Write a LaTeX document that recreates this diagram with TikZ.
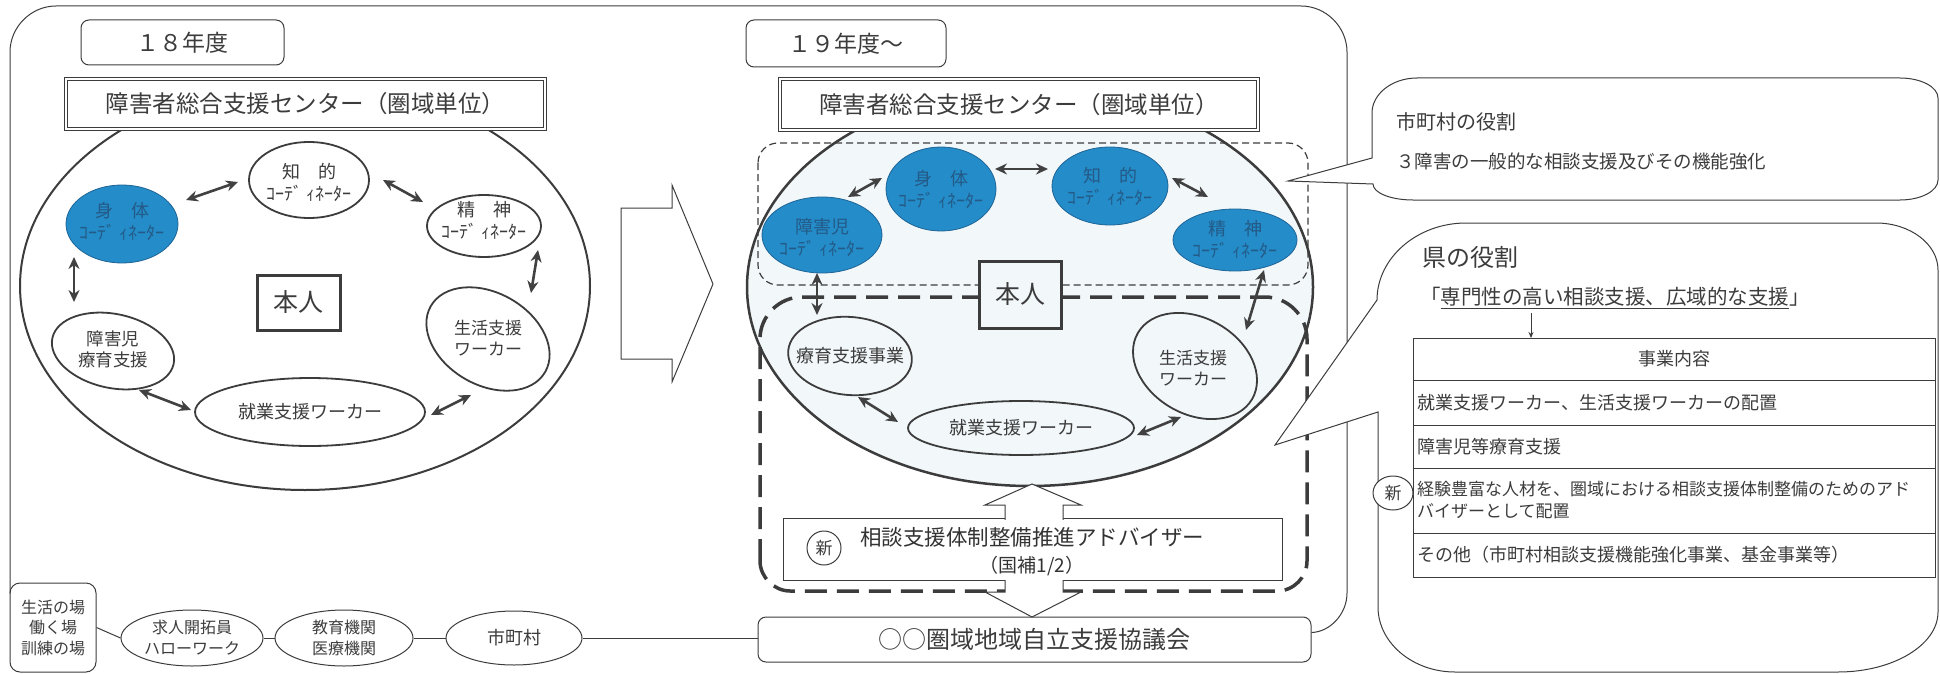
\documentclass[tikz,border=0pt]{standalone}
\usepackage{fontspec}
\setmainfont{Noto Sans CJK JP}
\usetikzlibrary{shapes.geometric,arrows.meta,calc}
\definecolor{ink}{RGB}{60,60,60}
\definecolor{arrowc}{RGB}{65,65,65}
\definecolor{cblue}{RGB}{36,140,200}
\definecolor{cbluedk}{RGB}{30,100,150}
\definecolor{cbluetxt}{RGB}{35,90,135}
\definecolor{tint}{RGB}{242,247,250}
\newcommand\fsz[2]{\fontsize{#1}{#2}\selectfont}
\begin{document}
\begin{tikzpicture}[x=1pt,y=-1pt,
  every node/.append style={text=ink},
  thinl/.style={draw=ink, line width=1pt},
  oval/.style={ellipse, draw=ink, line width=1.8pt, inner sep=0pt},
  blueoval/.style={ellipse, draw=cbluedk, line width=0.8pt, fill=cblue, inner sep=0pt},
  lbl/.style={align=center, inner sep=0pt, text=ink},
  bluelbl/.style={align=center, inner sep=0pt, text=cbluetxt},
  dbl/.style={{Stealth[length=12pt,width=11pt]}-{Stealth[length=12pt,width=11pt]}, draw=arrowc, line width=2.6pt},
  hbox/.style={draw=ink, line width=1pt, inner sep=0pt},
  heavydash/.style={draw=ink, line width=3.5pt, dash pattern=on 22pt off 10pt},
  lightdash/.style={draw=ink, line width=1.2pt, dash pattern=on 7pt off 4pt},
  cell/.style={draw=ink, line width=0.9pt, minimum width=522pt, inner sep=0pt, outer sep=0pt, anchor=north west},
]
\useasboundingbox (0,0) rectangle (1940,674);

% ---------- bottom row ----------
\node[hbox, rounded corners=10pt, minimum width=86pt, minimum height=89pt, align=center, font=\fsz{16}{20.5}] (life) at (53,627.5) {生活の場\\働く場\\訓練の場};
\node[ellipse, draw=ink, line width=1pt, minimum width=142pt, minimum height=56pt, inner sep=0pt] (kj) at (192,638) {};
\node[lbl, font=\fsz{16}{21}] (kj-t) at (kj) {求人開拓員\\ハローワーク};
\node[ellipse, draw=ink, line width=1pt, minimum width=138pt, minimum height=56pt, inner sep=0pt] (ky) at (344,638) {};
\node[lbl, font=\fsz{16}{21}] (ky-t) at (ky) {教育機関\\医療機関};
\node[ellipse, draw=ink, line width=1pt, minimum width=136pt, minimum height=54pt, inner sep=0pt] (sc) at (514,638) {};
\node[lbl, font=\fsz{18}{20}] (sc-t) at (sc) {市町村};
\node[hbox, rounded corners=8pt, minimum width=553pt, minimum height=45pt, fill=white, font=\fsz{24}{26}] (kyo) at (1034.5,639.5) {○○圏域地域自立支援協議会};
\draw[thinl] (life.east) -- (kj.west);
\draw[thinl] (kj.east) -- (ky.west);
\draw[thinl] (ky.east) -- (sc.west);
\draw[thinl] (sc.east) -- (sc.east -| kyo.west);

% ---------- outer frame ----------
\draw[thinl] ($(life.north west)+(0.5,11)$) -- (10,52) .. controls (10,27) and (31,6) .. (56,6) -- (1301,6) .. controls (1326,6) and (1347,27) .. (1347,52) -- (1347,593) .. controls (1347,614) and (1330,632) .. ($(kyo.east)+(0,-7)$);

% ---------- left panel ----------
\node[ellipse, draw=ink, line width=2pt, fill=white, minimum width=570pt, minimum height=408pt, inner sep=0pt] (LE) at (305,286) {};
\node[hbox, double, double distance=2.5pt, fill=white, minimum width=479pt, minimum height=50pt, font=\fsz{23.5}{26}] (LB) at (305.5,104) {障害者総合支援センター（圏域単位）};
\node[hbox, rounded corners=8pt, minimum width=203pt, minimum height=45pt, font=\fsz{23}{26}] (Y18) at (182.5,42.5) {１８年度};

\node[blueoval, minimum width=112pt, minimum height=78pt] (Ls) at (122,224) {};
\node[bluelbl, font=\fsz{18}{22}] (Ls-t) at (122,221) {身　体\\ｺｰﾃﾞ ｨﾈｰﾀｰ};
\node[oval, fill=white, minimum width=120pt, minimum height=76pt] (Lc) at (309,180) {};
\node[lbl, font=\fsz{18}{22}] (Lc-t) at (309,182) {知　的\\ｺｰﾃﾞ ｨﾈｰﾀｰ};
\node[oval, fill=white, minimum width=114pt, minimum height=62pt] (Lm) at (484,226) {};
\node[lbl, font=\fsz{18}{22}] (Lm-t) at (484,221) {精　神\\ｺｰﾃﾞ ｨﾈｰﾀｰ};
\node[oval, fill=white, minimum width=132pt, minimum height=92pt, rotate=-30] (Ll) at (488,339) {};
\node[lbl, font=\fsz{17}{21}] (Ll-t) at (488,338) {生活支援\\ワーカー};
\node[oval, fill=white, minimum width=230pt, minimum height=68pt] (Lj) at (310,412) {};
\node[lbl, font=\fsz{18}{22}] (Lj-t) at (Lj) {就業支援ワーカー};
\node[oval, fill=white, minimum width=124pt, minimum height=74pt, rotate=-12] (Lh) at (113,351) {};
\node[lbl, font=\fsz{17.5}{21}] (Lh-t) at (113,349) {障害児\\療育支援};
\node[draw=ink, line width=3pt, fill=white, minimum width=83pt, minimum height=55pt, inner sep=0pt, font=\fsz{25}{25}] (Lp) at (298.5,302.5) {本人};

\draw[dbl] ($(Ls)+(64,-24)$) -- ($(Lc)+(-71,2)$);
\draw[dbl] ($(Lc)+(74,0)$) -- ($(Lm)+(-61,-24)$);
\draw[dbl] ($(Lm)+(54,24)$) -- ($(Ll)+(43,-46)$);
\draw[dbl] ($(Ls)+(-48,33)$) -- ($(Lh)+(-39,-49)$);
\draw[dbl] ($(Lh)+(26,39)$) -- ($(Lj)+(-119,-2)$);
\draw[dbl] ($(Lj)+(121,3)$) -- ($(Ll)+(-17,56)$);

% ---------- middle arrow ----------
\draw[draw=ink, line width=1pt, fill=white] (621,208) -- (672,208) -- (672,185) -- (713,284) -- (672,382) -- (672,359) -- (621,359) -- cycle;

% ---------- right panel ----------
\node[ellipse, draw=ink, line width=2.5pt, fill=tint, minimum width=566pt, minimum height=398pt, inner sep=0pt] (RE) at (1030,287) {};
\node[hbox, double, double distance=2.5pt, fill=white, minimum width=478pt, minimum height=51pt, font=\fsz{23.5}{26}] (RB) at (1019,104.5) {障害者総合支援センター（圏域単位）};
\node[hbox, rounded corners=8pt, minimum width=200pt, minimum height=47pt, font=\fsz{23}{26}] (Y19) at (846,43.5) {１９年度～};

\draw[lightdash, rounded corners=20pt] (758,143) rectangle (1308,285);
\draw[heavydash] (760,561) -- (760,339) .. controls (760,316) and (779,297) .. (802,297) -- (1265,297) .. controls (1288,297) and (1307,316) .. (1307,339) -- (1307,561) .. controls (1307,577) and (1294,591) .. (1277,591) -- (790,591) .. controls (774,591) and (760,577) .. (760,561) -- cycle;

\node[blueoval, minimum width=120pt, minimum height=76pt] (Rh) at (822,235) {};
\node[bluelbl, font=\fsz{18}{22}] (Rh-t) at (822,238) {障害児\\ｺｰﾃﾞ ｨﾈｰﾀｰ};
\node[blueoval, minimum width=110pt, minimum height=84pt] (Rs) at (941,189) {};
\node[bluelbl, font=\fsz{18}{22}] (Rs-t) at (941,189) {身　体\\ｺｰﾃﾞ ｨﾈｰﾀｰ};
\node[blueoval, minimum width=116pt, minimum height=78pt] (Rc) at (1110,186) {};
\node[bluelbl, font=\fsz{18}{22}] (Rc-t) at (1110,186) {知　的\\ｺｰﾃﾞ ｨﾈｰﾀｰ};
\node[blueoval, minimum width=124pt, minimum height=62pt] (Rm) at (1235,240) {};
\node[bluelbl, font=\fsz{18}{22}] (Rm-t) at (1235,240) {精　神\\ｺｰﾃﾞ ｨﾈｰﾀｰ};

\node[oval, minimum width=124pt, minimum height=78pt, rotate=-5] (Rr) at (850,356) {};
\node[lbl, font=\fsz{18}{22}] (Rr-t) at (Rr) {療育支援事業};
\node[oval, minimum width=132pt, minimum height=96pt, rotate=-30] (Rl) at (1195,366) {};
\node[lbl, font=\fsz{17}{21}] (Rl-t) at (1193,368) {生活支援\\ワーカー};
\node[oval, minimum width=226pt, minimum height=54pt] (Rj) at (1021,428) {};
\node[lbl, font=\fsz{18}{22}] (Rj-t) at (Rj) {就業支援ワーカー};
\node[draw=ink, line width=3pt, fill=tint, minimum width=82pt, minimum height=67pt, inner sep=0pt, font=\fsz{25}{25}] (Rp) at (1020,294.5) {本人};

\draw[dbl] ($(Rh)+(26,-38)$) -- ($(Rs)+(-59,-11)$);
\draw[dbl] ($(Rs)+(54,-20)$) -- ($(Rc)+(-62,-17)$);
\draw[dbl] ($(Rc)+(62,-8)$) -- ($(Rm)+(-27,-43)$);
\draw[dbl] ($(Rh)+(-5,38)$) -- ($(Rr)+(-33,-41)$);
\draw[dbl] ($(Rm)+(29,30)$) -- ($(Rl)+(51,-36)$);
\draw[dbl] ($(Rr)+(8,41)$) -- ($(Rj)+(-123,-6)$);
\draw[dbl] ($(Rj)+(116,7)$) -- ($(Rl)+(-14,51)$);

% advisor box with up/down block arrow
\node[draw=ink, line width=1pt, fill=white, minimum width=499pt, minimum height=62pt, inner sep=0pt] (adv) at (1032.5,549.5) {};
\draw[draw=ink, line width=1pt, fill=white] (1032,484) -- (1081,505) -- (1063,505) -- (1063,592) -- (1081,592) -- (1032,617) -- (985,592) -- (1005,592) -- (1005,505) -- (985,505) -- cycle;
\fill[white] ($(adv.north west)+(1.5,1.5)$) rectangle ($(adv.south east)+(-1.5,-1.5)$);
\node[circle, draw=ink, line width=1pt, minimum size=34pt, inner sep=0pt, font=\fsz{17}{17}] (advnew) at (824,548) {新};
\node[lbl, font=\fsz{21.5}{24}, text=black!80] (advt1) at (1032,537) {相談支援体制整備推進アドバイザー};
\node[lbl, font=\fsz{19}{21}, text=black!80] (advt2) at (1032,566) {（国補1/2）};

% ---------- speech bubbles ----------
\draw[thinl, fill=white] (1288,181) -- (1372,158) -- (1372,113) .. controls (1372,94) and (1392,78) .. (1417,78) -- (1900,78) .. controls (1921,78) and (1938,87) .. (1938,98) -- (1938,180) .. controls (1938,191) and (1921,200) .. (1900,200) -- (1413,200) .. controls (1391,200) and (1373,193) .. (1373,184) -- cycle;
\node[lbl, anchor=west, font=\fsz{20}{22}] (b1t) at (1396,122) {市町村の役割};
\node[lbl, anchor=west, font=\fsz{18.5}{20}] (b1s) at (1396,162) {３障害の一般的な相談支援及びその機能強化};

\draw[thinl, fill=white] (1275,445) -- (1377,300) .. controls (1377,258) and (1417,223) .. (1466,223) -- (1876,223) .. controls (1910,223) and (1938,244) .. (1938,270) -- (1938,612) .. controls (1938,645) and (1893,672) .. (1838,672) -- (1455,672) .. controls (1413,672) and (1378,643) .. (1378,607) -- (1378,412) -- cycle;
\node[lbl, anchor=west, font=\fsz{24}{26}] (b2t) at (1422,257) {県の役割};
\node[lbl, anchor=west, font=\fsz{20.5}{22}] (b2s) at (1420,298) {「\underline{専門性の高い相談支援、広域的な支援}」};

\node[cell, minimum height=42pt] (r0) at (1413,338) {};
\node[cell, minimum height=45pt] (r1) at (r0.south west) {};
\node[cell, minimum height=43pt] (r2) at (r1.south west) {};
\node[cell, minimum height=65pt] (r3) at (r2.south west) {};
\node[cell, minimum height=44pt] (r4) at (r3.south west) {};
\node[lbl, font=\fsz{18}{20}] (r0-t) at (r0) {事業内容};
\node[lbl, anchor=west, font=\fsz{18}{20}] (r1-t) at ($(r1.west)+(4,0)$) {就業支援ワーカー、生活支援ワーカーの配置};
\node[lbl, anchor=west, font=\fsz{18}{20}] (r2-t) at ($(r2.west)+(4,0)$) {障害児等療育支援};
\node[lbl, anchor=west, align=left, font=\fsz{17}{22}] (r3-t) at ($(r3.west)+(4,0)$) {経験豊富な人材を、圏域における相談支援体制整備のためのアド\\バイザーとして配置};
\node[lbl, anchor=west, font=\fsz{18}{20}] (r4-t) at ($(r4.west)+(4,0)$) {その他（市町村相談支援機能強化事業、基金事業等）};
\node[ellipse, draw=ink, line width=1pt, fill=white, minimum width=40pt, minimum height=34pt, inner sep=0pt, font=\fsz{17}{17}] (tnew) at (1393,493) {新};

\coordinate (darr) at (1531,313);
\draw[draw=ink, line width=0.9pt, -{Stealth[length=6pt,width=5pt]}] (darr) -- (darr |- r0.north);
\end{tikzpicture}
\end{document}
